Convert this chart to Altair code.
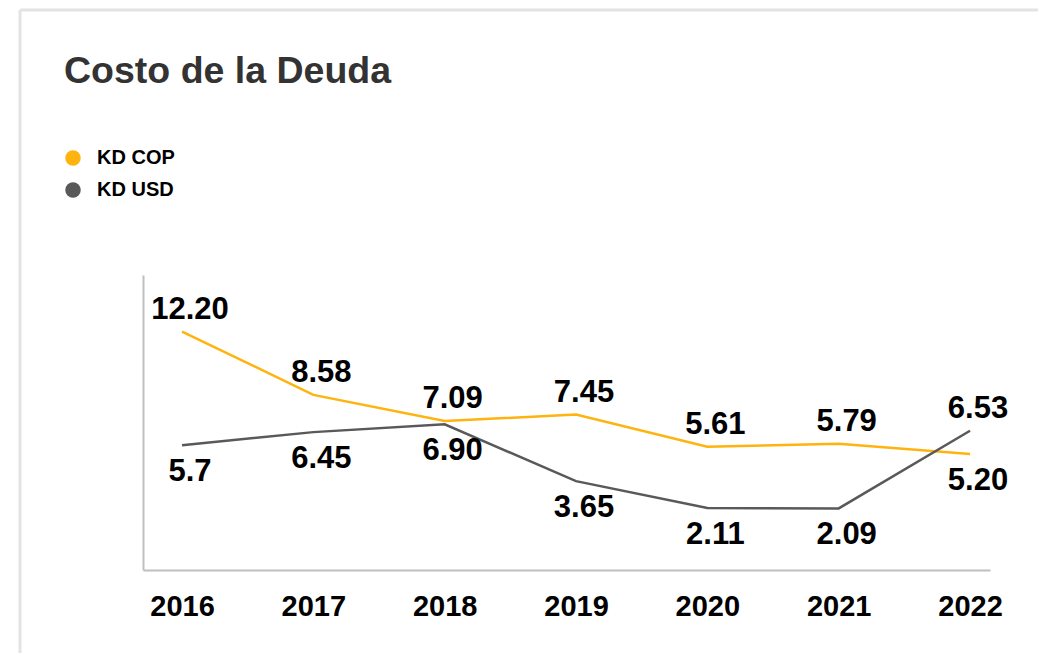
import altair as alt
import pandas as pd

years = [2016, 2017, 2018, 2019, 2020, 2021, 2022]
kd_cop = [12.20, 8.58, 7.09, 7.45, 5.61, 5.79, 5.20]
kd_usd = [5.70, 6.45, 6.90, 3.65, 2.11, 2.09, 6.53]
cop_labels = ["12.20", "8.58", "7.09", "7.45", "5.61", "5.79", "5.20"]
usd_labels = ["5.7", "6.45", "6.90", "3.65", "2.11", "2.09", "6.53"]
cop_side = ["above", "above", "above", "above", "above", "above", "below"]
usd_side = ["below", "below", "below", "below", "below", "below", "above"]
series_names = ["KD COP", "KD USD"]
series_colors = ["#FFB30F", "#595959"]
title_text = "Costo de la Deuda"

rows = []
for y, v, l, s in zip(years, kd_cop, cop_labels, cop_side):
    rows.append({"year": y, "value": v, "label": l, "side": s, "serie": "KD COP"})
for y, v, l, s in zip(years, kd_usd, usd_labels, usd_side):
    rows.append({"year": y, "value": v, "label": l, "side": s, "serie": "KD USD"})
df = pd.DataFrame(rows)

W, H = 847, 295
PAD_L, PAD_T, PAD_R, PAD_B = 135, 267, 48, 83

x_enc = alt.X("year:Q",
              scale=alt.Scale(domain=[2015.703, 2022.152], nice=False, zero=False),
              axis=alt.Axis(values=years, format="d", title=None, grid=False, ticks=False,
                            labelFont="Liberation Sans", labelFontWeight="bold",
                            labelFontSize=29, labelColor="#000000", labelPadding=22,
                            domainColor="#BFBFBF", domainWidth=2, labelFlush=False))
y_enc = alt.Y("value:Q",
              scale=alt.Scale(domain=[-1.43, 15.43], nice=False, zero=False),
              axis=alt.Axis(title=None, labels=False, ticks=False, grid=False,
                            domainColor="#BFBFBF", domainWidth=2))
color_scale = alt.Scale(domain=series_names, range=series_colors)
legend_def = alt.Legend(orient="none", legendX=-80, legendY=-127,
                        title=None, symbolType="circle", symbolSize=240,
                        symbolOpacity=1, symbolStrokeWidth=0,
                        labelFont="Liberation Sans",
                        labelFontWeight="bold", labelFontSize=20,
                        labelColor="#000000", labelOffset=14,
                        rowPadding=12, padding=0)

base = alt.Chart(df)

lines = base.mark_line(strokeWidth=2.5).encode(
    x=x_enc, y=y_enc, stroke=alt.Stroke("serie:N", scale=color_scale, legend=legend_def))

legend_pts = base.mark_circle(opacity=0, size=240).encode(
    x="year:Q", y="value:Q",
    fill=alt.Fill("serie:N", scale=color_scale, legend=legend_def))

text_common = dict(font="Liberation Sans", fontWeight="bold", fontSize=31,
                   color="#000000", baseline="middle", align="center", dx=8)
labels_above = base.transform_filter(alt.datum.side == "above").mark_text(
    dy=-22, **text_common).encode(x="year:Q", y="value:Q", text="label:N")
labels_below = base.transform_filter(alt.datum.side == "below").mark_text(
    dy=27, **text_common).encode(x="year:Q", y="value:Q", text="label:N")

one = pd.DataFrame({"k": [0]})
frame_top = alt.Chart(one).mark_rule(color="#E3E3E3", strokeWidth=3).encode(
    x=alt.value(-123), x2=alt.value(W + PAD_R), y=alt.value(-265))
frame_left = alt.Chart(one).mark_rule(color="#E3E3E3", strokeWidth=3).encode(
    x=alt.value(-123), y=alt.value(-265), y2=alt.value(H + PAD_B))
title = alt.Chart(one).mark_text(
    text=title_text, font="Liberation Sans", fontWeight="bold", fontSize=37.5,
    color="#333333", align="left", baseline="alphabetic").encode(
    x=alt.value(-79), y=alt.value(-192))

chart = alt.layer(frame_top, frame_left, title, lines, legend_pts,
                  labels_above, labels_below).properties(
    width=W, height=H,
    autosize=alt.AutoSizeParams(type="none"),
    padding={"left": PAD_L, "top": PAD_T, "right": PAD_R, "bottom": PAD_B},
).configure_view(stroke=None)

chart.save("out.html", embed_options={"renderer": "svg", "actions": False})
